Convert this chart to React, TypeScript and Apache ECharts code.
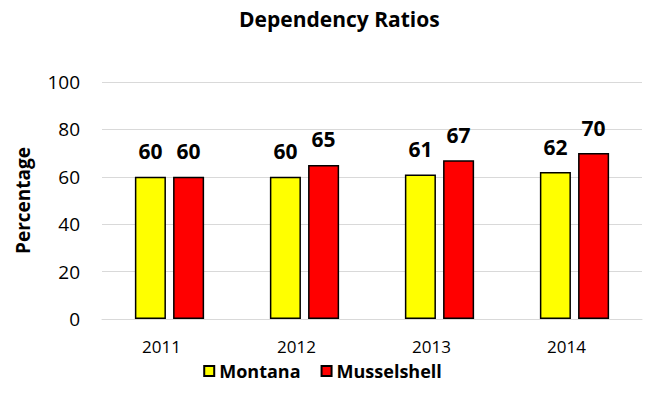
import React, { useEffect, useRef } from "react";
import * as echarts from "echarts";

const categories = ["2011", "2012", "2013", "2014"];
const montana = [60, 60, 61, 62];
const musselshell = [60, 65, 67, 70];
const yTicks = { min: 0, max: 100, interval: 20 };

const FONT = "'Open Sans', 'Liberation Sans', sans-serif";

export default function App() {
  const ref = useRef<HTMLDivElement>(null);
  useEffect(() => {
    if (!ref.current) return;
    const chart = echarts.init(ref.current, null, { renderer: "svg" });
    const label = {
      show: true,
      position: "top",
      distance: 15,
      fontFamily: FONT,
      fontWeight: "bold",
      fontSize: 21,
      color: "#000",
    };
    chart.setOption({
      animation: false,
      backgroundColor: "#fff",
      title: {
        text: "Dependency Ratios",
        left: 234,
        top: 3,
        textStyle: { fontFamily: FONT, fontWeight: "bold", fontSize: 21, color: "#000" },
      },
      legend: {
        top: 357,
        left: "center",
        itemWidth: 10,
        itemHeight: 10,
        itemGap: 20,
        icon: "rect",
        textStyle: { fontFamily: FONT, fontWeight: "bold", fontSize: 18, color: "#000" },
        data: ["Montana", "Musselshell"],
      },
      grid: { left: 102, right: 3, top: 82, bottom: 92 },
      xAxis: {
        type: "category",
        data: categories,
        axisTick: { show: false },
        axisLine: { show: true, lineStyle: { color: "#d9d9d9", width: 1 } },
        axisLabel: { fontFamily: FONT, fontSize: 17, color: "#000", margin: 19, padding: [0, 16, 0, 0] },
      },
      yAxis: {
        type: "value",
        min: yTicks.min,
        max: yTicks.max,
        interval: yTicks.interval,
        name: "Percentage",
        nameLocation: "middle",
        nameGap: 70,
        nameTextStyle: { fontFamily: FONT, fontWeight: "bold", fontSize: 19, color: "#000" },
        axisLine: { show: false },
        axisTick: { show: false },
        splitLine: { lineStyle: { color: "#d9d9d9", width: 1 } },
        axisLabel: { fontFamily: FONT, fontSize: 19, color: "#000", margin: 22 },
      },
      series: [
        {
          name: "Montana",
          type: "bar",
          data: montana,
          barWidth: "23%",
          barGap: "23%",
          itemStyle: { color: "#ffff00", borderColor: "#000", borderWidth: 1.5 },
          label,
        },
        {
          name: "Musselshell",
          type: "bar",
          data: musselshell,
          barWidth: "23%",
          itemStyle: { color: "#ff0000", borderColor: "#000", borderWidth: 1.5 },
          label,
        },
      ],
    });
    return () => chart.dispose();
  }, []);
  return (
    <div
      ref={ref}
      style={{ position: "fixed", left: 0, top: 0, width: 645, height: 411 }}
    />
  );
}
